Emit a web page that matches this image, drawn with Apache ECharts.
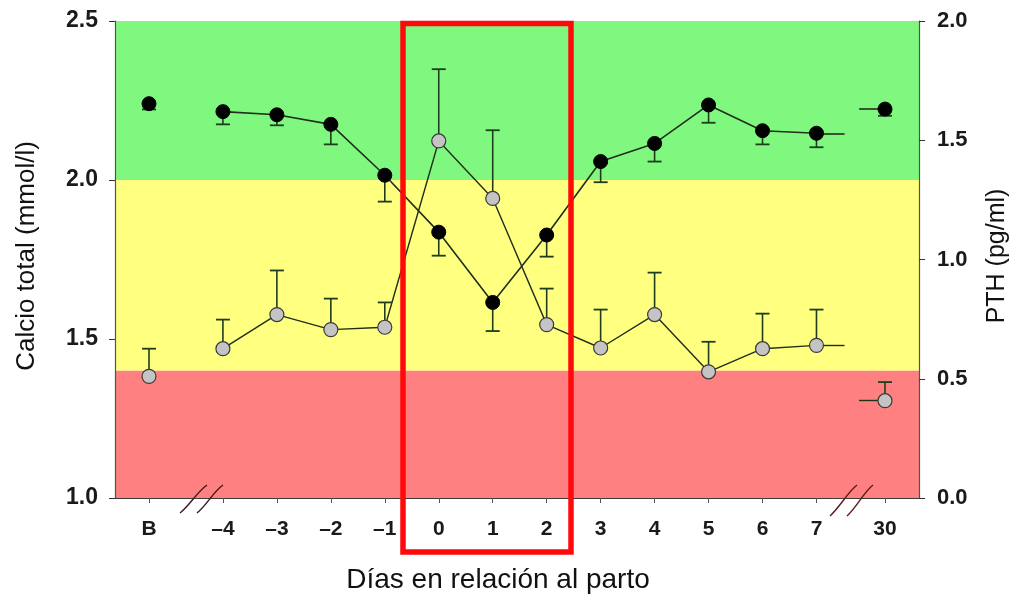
<!DOCTYPE html>
<html>
<head>
<meta charset="utf-8">
<script src="https://cdn.jsdelivr.net/npm/echarts@6/dist/echarts.min.js"></script>
<style>html,body{margin:0;padding:0;background:#fff;}#c{width:1023px;height:601px;}</style>
</head>
<body>
<div id="c"></div>
<script>
// ---- data ----
const days = ['B', '\u20134', '\u20133', '\u20132', '\u20131', '0', '1', '2', '3', '4', '5', '6', '7', '30'];
// position of each day on the broken x axis (axis breaks between B/-4 and 7/30)
const dayPos = [-5.37, -4, -3, -2, -1, 0, 1, 2, 3, 4, 5, 6, 7, 8.27];
const calcium = [2.24, 2.215, 2.205, 2.175, 2.015, 1.836, 1.615, 1.827, 2.058, 2.115, 2.236, 2.155, 2.147, 2.223];
const calciumLow = [2.222, 2.175, 2.172, 2.112, 1.932, 1.762, 1.525, 1.759, 1.993, 2.058, 2.18, 2.112, 2.103, 2.202];
const pth = [0.51, 0.626, 0.769, 0.706, 0.716, 1.497, 1.256, 0.727, 0.629, 0.769, 0.529, 0.626, 0.64, 0.408];
const pthHigh = [0.626, 0.748, 0.954, 0.836, 0.82, 1.798, 1.542, 0.878, 0.79, 0.945, 0.655, 0.773, 0.79, 0.486];
const leftTicks = [1.0, 1.5, 2.0, 2.5];
const rightTicks = [0.0, 0.5, 1.0, 1.5, 2.0];
// reference bands for calcium (mmol/l)
const bandGreen = [2.0, 2.5];
const bandYellow = [1.4, 2.0];
const bandRed = [1.0, 1.4];
const xTitle = 'D\u00edas en relaci\u00f3n al parto';
const yLeftTitle = 'Calcio total (mmol/l)';
const yRightTitle = 'PTH (pg/ml)';

const chart = echarts.init(document.getElementById('c'), null, {renderer: 'canvas'});

const connected = arr => arr.slice(1, 13); // days -4 .. 7 connected
const pts = (ys) => dayPos.map((x, i) => [x, ys[i]]);
const errPts = (ys, es) => dayPos.map((x, i) => [x, ys[i], es[i]]);

const lineCol = '#1f2f1a';
const errCol = '#1d3d1d';

function errRender(params, api) {
  const x = api.value(0), y = api.value(1), e = api.value(2);
  const p1 = api.coord([x, y]);
  const p2 = api.coord([x, e]);
  return {
    type: 'group',
    children: [
      {type: 'line', shape: {x1: p1[0], y1: p1[1], x2: p2[0], y2: p2[1]}, style: {stroke: errCol, lineWidth: 1.6}},
      {type: 'line', shape: {x1: p2[0] - 7, y1: p2[1], x2: p2[0] + 7, y2: p2[1]}, style: {stroke: errCol, lineWidth: 1.8}}
    ]
  };
}

function stubs(ys) {
  return [
    [{coord: [dayPos[12], ys[12]]}, {coord: [dayPos[12] + 0.52, ys[12]]}],
    [{coord: [dayPos[13] - 0.48, ys[13]]}, {coord: [dayPos[13], ys[13]]}]
  ];
}

const FF = 'Liberation Sans, Arial, sans-serif';
const labelFont = {fontFamily: FF, fontWeight: 'bold', color: '#1a1a1a'};

const option = {
  animation: false,
  backgroundColor: '#ffffff',
  grid: {left: 115, right: 104, top: 21, bottom: 103, containLabel: false},
  xAxis: {
    type: 'value', min: -6, max: 8.9,
    axisLine: {show: true, onZero: false, lineStyle: {color: '#3b3b3b', width: 1}},
    axisTick: {show: true, customValues: dayPos, length: 5, lineStyle: {color: '#555'}},
    axisLabel: {
      customValues: dayPos, margin: 21, fontSize: 21, ...labelFont,
      formatter: v => {
        let bi = 0, bd = 1e9;
        dayPos.forEach((p, i) => { const d = Math.abs(p - v); if (d < bd) { bd = d; bi = i; } });
        return days[bi];
      }
    },
    splitLine: {show: false}
  },
  yAxis: [
    {
      type: 'value', min: 1, max: 2.5, interval: 0.5, position: 'left',
      axisLine: {show: true, onZero: false, lineStyle: {color: '#4a5a4a', width: 1.2}},
      axisTick: {show: true, inside: false, length: 6, lineStyle: {color: '#333'}},
      axisLabel: {margin: 17, fontSize: 23, ...labelFont, formatter: v => v.toFixed(1)},
      splitLine: {show: false}
    },
    {
      type: 'value', min: 0, max: 2, interval: 0.5, position: 'right',
      axisLine: {show: true, onZero: false, lineStyle: {color: '#4a5a4a', width: 1.2}},
      axisTick: {show: true, inside: false, length: 6, lineStyle: {color: '#333'}},
      axisLabel: {margin: 18, fontSize: 22, ...labelFont, formatter: v => v.toFixed(1)},
      splitLine: {show: false}
    }
  ],
  series: [
    {
      name: 'Calcio line', type: 'line', yAxisIndex: 0, z: 2,
      data: connected(pts(calcium)), showSymbol: false, symbol: 'none',
      lineStyle: {color: lineCol, width: 1.6},
      markArea: {
        silent: true, z: 0,
        data: [
          [{yAxis: bandGreen[0], itemStyle: {color: '#80f880'}}, {yAxis: bandGreen[1]}],
          [{yAxis: bandYellow[0], itemStyle: {color: '#ffff80'}}, {yAxis: bandYellow[1]}],
          [{yAxis: bandRed[0], itemStyle: {color: '#ff8080'}}, {yAxis: bandRed[1]}]
        ]
      },
      markLine: {silent: true, symbol: 'none', label: {show: false}, lineStyle: {color: lineCol, width: 1.6, type: 'solid'}, data: stubs(calcium)}
    },
    {
      name: 'PTH line', type: 'line', yAxisIndex: 1, z: 2,
      data: connected(pts(pth)), showSymbol: false, symbol: 'none',
      lineStyle: {color: lineCol, width: 1.4},
      markLine: {silent: true, symbol: 'none', label: {show: false}, lineStyle: {color: lineCol, width: 1.4, type: 'solid'}, data: stubs(pth)}
    },
    {name: 'Calcio err', type: 'custom', yAxisIndex: 0, z: 3, renderItem: errRender, data: errPts(calcium, calciumLow)},
    {name: 'PTH err', type: 'custom', yAxisIndex: 1, z: 3, renderItem: errRender, data: errPts(pth, pthHigh)},
    {
      name: 'Calcio', type: 'scatter', yAxisIndex: 0, z: 5, symbol: 'circle', symbolSize: 14,
      itemStyle: {color: '#000', borderColor: '#000', borderWidth: 1, opacity: 1},
      data: pts(calcium)
    },
    {
      name: 'PTH', type: 'scatter', yAxisIndex: 1, z: 5, symbol: 'circle', symbolSize: 14,
      itemStyle: {color: '#c4c4c4', borderColor: '#3a3a3a', borderWidth: 1.2, opacity: 1},
      data: pts(pth)
    }
  ],
  graphic: [
    // axis titles
    {type: 'text', z: 100, x: 498, y: 580,
     style: {text: xTitle, fontFamily: FF, fontSize: 28, fill: '#111', align: 'center', verticalAlign: 'middle'}},
    {type: 'text', z: 100, x: 27, y: 256, rotation: Math.PI / 2,
     style: {text: yLeftTitle, fontFamily: FF, fontSize: 26, fill: '#111', align: 'center', verticalAlign: 'middle'}},
    {type: 'text', z: 100, x: 997, y: 256, rotation: Math.PI / 2,
     style: {text: yRightTitle, fontFamily: FF, fontSize: 25, fill: '#111', align: 'center', verticalAlign: 'middle'}},
    // highlight box around days 0-2
    {type: 'rect', z: 100, shape: {x: 403, y: 23.5, width: 168, height: 528.5},
     style: {fill: 'none', stroke: '#ff0a0a', lineWidth: 5.5}},
    // axis break marks
    {type: 'bezierCurve', z: 100, shape: {x1: 180, y1: 513, x2: 207, y2: 485, cpx1: 190, cpy1: 505, cpx2: 197, cpy2: 492}, style: {stroke: '#3a1a1a', lineWidth: 1.4, fill: 'none'}},
    {type: 'bezierCurve', z: 100, shape: {x1: 197, y1: 513, x2: 223, y2: 485, cpx1: 207, cpy1: 505, cpx2: 213, cpy2: 492}, style: {stroke: '#3a1a1a', lineWidth: 1.4, fill: 'none'}},
    {type: 'bezierCurve', z: 100, shape: {x1: 830, y1: 516, x2: 857, y2: 485, cpx1: 840, cpy1: 507, cpx2: 847, cpy2: 493}, style: {stroke: '#5a1a1a', lineWidth: 1.4, fill: 'none'}},
    {type: 'bezierCurve', z: 100, shape: {x1: 847, y1: 516, x2: 873, y2: 485, cpx1: 857, cpy1: 507, cpx2: 863, cpy2: 493}, style: {stroke: '#5a1a1a', lineWidth: 1.4, fill: 'none'}}
  ]
};
chart.setOption(option);
</script>
</body>
</html>
